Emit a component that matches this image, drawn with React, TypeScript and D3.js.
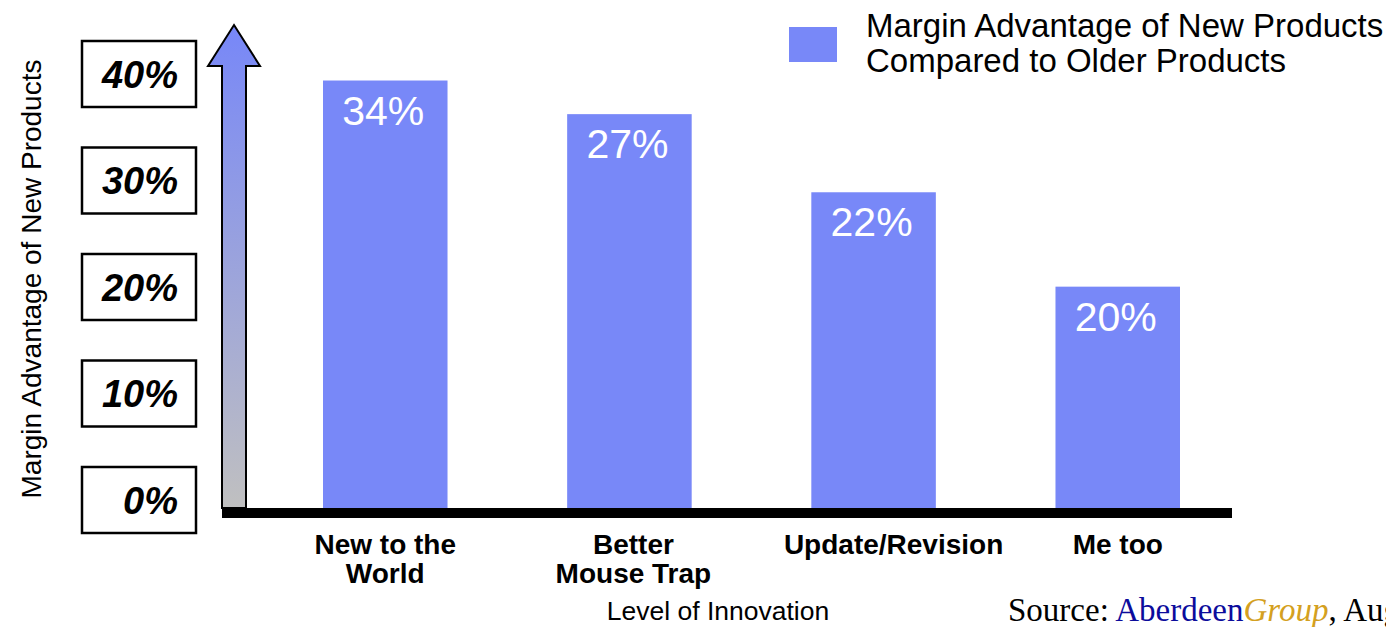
import React from "react";
import * as d3 from "d3";

// ---- data ----
const categories: string[][] = [["New to the", "World"], ["Better", "Mouse Trap"], ["Update/Revision"], ["Me too"]];
// bar heights as drawn, read against the 0–40% axis
const barHeights: number[] = [39.4, 36.3, 29.1, 20.4];
const barLabels: string[] = ["34%", "27%", "22%", "20%"];
const tickValues: number[] = [0, 10, 20, 30, 40];
const tickLabels: string[] = ["0%", "10%", "20%", "30%", "40%"];
const legendLines: string[] = ["Margin Advantage of New Products", "Compared to Older Products"];
const yTitle = "Margin Advantage of New  Products";
const xTitle = "Level of Innovation";

const W = 1386;
const H = 627;
const BAR = "#7888f8";
const SANS = "'Liberation Sans', Arial, Helvetica, sans-serif";
const SERIF = "'Liberation Serif', 'Times New Roman', serif";

export default function App() {
  const ids = categories.map((_, i) => String(i));
  const x = d3.scaleBand<string>().domain(ids).range([323, 1180]).paddingInner(0.49).paddingOuter(0);
  const yBar = d3.scaleLinear().domain([0, 40]).range([508, 74]);
  const yTick = d3.scaleLinear().domain([0, 40]).range([500, 74]);

  const base = yBar(0);
  const shaftL = 222, shaftR = 246, headL = 208, headR = 260, headY = 66, tipY = 25;
  const arrowPath = d3.path();
  arrowPath.moveTo((shaftL + shaftR) / 2, tipY);
  arrowPath.lineTo(headR, headY);
  arrowPath.lineTo(shaftR, headY);
  arrowPath.lineTo(shaftR, base);
  arrowPath.lineTo(shaftL, base);
  arrowPath.lineTo(shaftL, headY);
  arrowPath.lineTo(headL, headY);
  arrowPath.closePath();

  // the "Update/Revision" label sits a little right of its bar in the reference
  const labelNudge = (i: number) => (i === 2 ? 20 : i === 1 ? 4 : 0);
  const cx = (i: number) => (x(ids[i]) as number) + x.bandwidth() / 2;

  return (
    <svg width={W} height={H} style={{ position: "absolute", left: 0, top: 0, background: "#fff" }}>
      <defs>
        <linearGradient id="arrowGrad" x1="0" y1={tipY} x2="0" y2={base} gradientUnits="userSpaceOnUse">
          <stop offset="0" stopColor="#7787f8" />
          <stop offset="1" stopColor="#c0c0c0" />
        </linearGradient>
      </defs>

      {/* y-axis title */}
      <text
        transform={`translate(41,${(60 + 498) / 2}) rotate(-90)`}
        textAnchor="middle"
        fontFamily={SANS}
        fontSize={28}
        fill="#000"
      >
        {yTitle}
      </text>

      {/* tick boxes */}
      {tickValues.map((v, i) => (
        <g key={v}>
          <rect x={82} y={yTick(v) - 33} width={114} height={66} fill="#fff" stroke="#000" strokeWidth={2.5} />
          <text
            x={178}
            y={yTick(v) + 13.5}
            textAnchor="end"
            fontFamily={SANS}
            fontWeight="bold"
            fontStyle="italic"
            fontSize={38}
            fill="#000"
          >
            {tickLabels[i]}
          </text>
        </g>
      ))}

      {/* arrow axis */}
      <path d={arrowPath.toString()} fill="url(#arrowGrad)" stroke="#000" strokeWidth={2} strokeLinejoin="miter" />

      {/* bars */}
      {barHeights.map((v, i) => (
        <g key={i}>
          <rect x={x(ids[i])} y={yBar(v)} width={x.bandwidth()} height={base - yBar(v)} fill={BAR} />
          <text x={cx(i) - 2} y={yBar(v) + 44} textAnchor="middle" fontFamily={SANS} fontSize={41} fill="#fff">
            {barLabels[i]}
          </text>
        </g>
      ))}

      {/* baseline */}
      <rect x={shaftL} y={base} width={1232 - shaftL} height={10} fill="#000" />

      {/* category labels */}
      {categories.map((lines, i) => (
        <text
          key={i}
          x={cx(i) + labelNudge(i)}
          y={554}
          textAnchor="middle"
          fontFamily={SANS}
          fontWeight="bold"
          fontSize={28}
          fill="#000"
        >
          {lines.map((l, j) => (
            <tspan key={j} x={cx(i) + labelNudge(i)} dy={j === 0 ? 0 : 29}>
              {l}
            </tspan>
          ))}
        </text>
      ))}

      {/* x title */}
      <text x={718} y={620} textAnchor="middle" fontFamily={SANS} fontSize={26.5} fill="#000">
        {xTitle}
      </text>

      {/* legend */}
      <rect x={789} y={27} width={48} height={35} fill={BAR} />
      {legendLines.map((l, i) => (
        <text key={i} x={866} y={37 + i * 35} fontFamily={SANS} fontSize={33} fill="#000">
          {l}
        </text>
      ))}

      {/* source */}
      <text x={1008} y={621} fontFamily={SERIF} fontSize={33} fill="#000">
        Source:{" "}
        <tspan fill="#0c0c9c">Aberdeen</tspan>
        <tspan fill="#d4a020" fontStyle="italic">Group</tspan>
        <tspan fill="#000">, Aug</tspan>
      </text>
    </svg>
  );
}
